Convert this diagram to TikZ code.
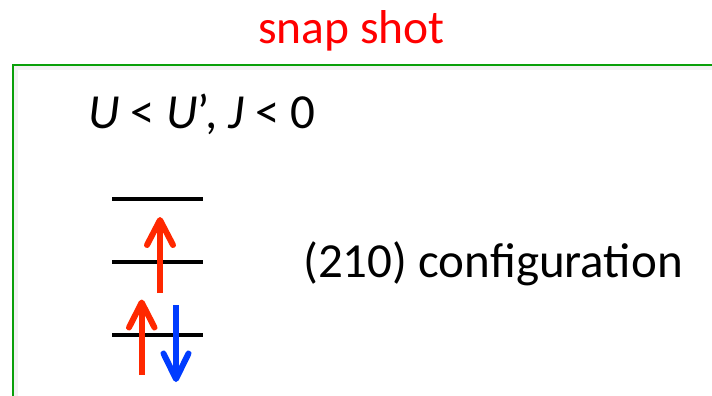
\documentclass[tikz,border=0pt]{standalone}
\usepackage{fontspec}
\setmainfont{Carlito}
\begin{document}
\begin{tikzpicture}[x=1pt,y=-1pt,
  lbl/.style={inner sep=0pt,anchor=base west,font=\fontsize{49}{52}\selectfont},
  level/.style={line width=4pt,black},
  shaft/.style={line width=6pt,line cap=butt},
  barb/.style={line width=6pt,line cap=round,line join=round},
  greenframe/.style={draw=framegreen,line width=2pt}]
\definecolor{spinred}{RGB}{255,40,0}
\definecolor{spinblue}{RGB}{0,60,255}
\definecolor{framegreen}{RGB}{10,160,10}
\useasboundingbox (0,0) rectangle (712,396);
\clip (0,0) rectangle (712,396);
% shadow
\draw[line width=4pt,black!5] (15.5,402) -- (15.5,68.5) -- (720,68.5);
\draw[greenframe] (12.5,402) -- (12.5,65) -- (720,65);
\node[lbl,text=red,font=\fontsize{47.5}{50}\selectfont] (title) at (258,44) {snap shot};
\node[lbl] (cond) at (88,128) {\textit{U} < \textit{U}’, \textit{J} < 0};
\node[lbl] (conf) at (303,277) {(210) configuration};
% levels
\coordinate (l3a) at (112,199); \coordinate (l3b) at (202.5,199);
\coordinate (l2a) at (112,262); \coordinate (l2b) at (202.5,262);
\coordinate (l1a) at (112,335); \coordinate (l1b) at (202.5,335);
\draw[level] (l3a) -- (l3b);
\draw[level] (l2a) -- (l2b);
\draw[level] (l1a) -- (l1b);
% upper red arrow
\coordinate (t1) at (160,220);
\draw[shaft,spinred] (160,293) -- (160,224);
\draw[barb,spinred] (147,245) -- (t1) -- (173,245);
% lower red arrow
\coordinate (t2) at (141.7,302.5);
\draw[shaft,spinred] (141.7,375) -- (141.7,306);
\draw[barb,spinred] (129,327.5) -- (t2) -- (154.5,327.5);
% blue arrow
\coordinate (t3) at (176,379);
\draw[shaft,spinblue] (176,305) -- (176,375);
\draw[barb,spinblue] (163.5,353.5) -- (t3) -- (188.5,353.5);
\end{tikzpicture}
\end{document}
